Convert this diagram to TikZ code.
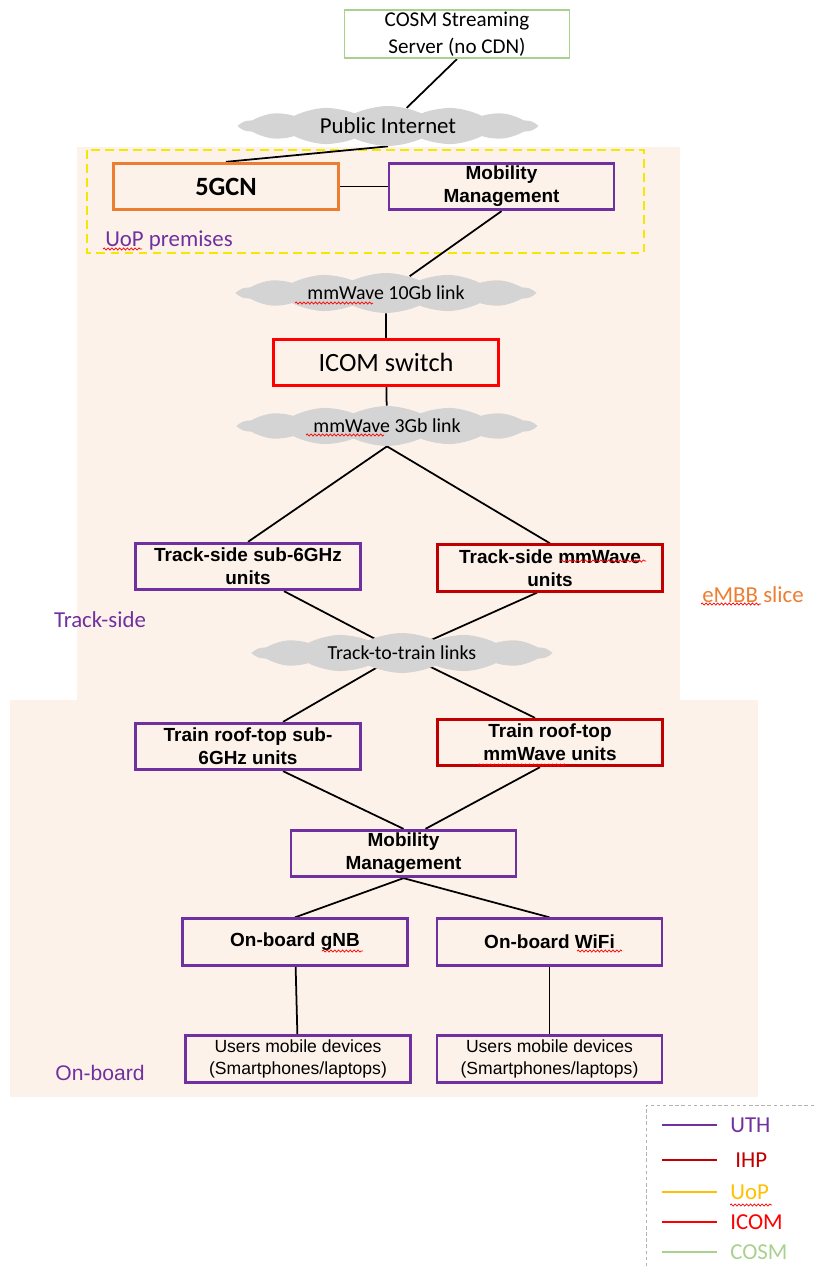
\documentclass[tikz,border=0pt]{standalone}
\usepackage{fontspec}
\setmainfont{Carlito}
\newfontfamily\arialfont{Liberation Sans}
\usetikzlibrary{calc,shapes.symbols,decorations.pathmorphing}

\definecolor{uthpurple}{HTML}{7030A0}
\definecolor{ihpred}{HTML}{C00000}
\definecolor{uopyellow}{HTML}{FFC000}
\definecolor{icomred}{HTML}{FF0000}
\definecolor{cosmgreen}{HTML}{A9D18E}
\definecolor{gcnorange}{HTML}{ED7D31}
\definecolor{premyellow}{HTML}{F5E800}
\definecolor{peach}{HTML}{FDF2EA}
\definecolor{cloudgray}{HTML}{D4D4D4}

\pgfdeclarelayer{back}
\pgfdeclarelayer{links}
\pgfsetlayers{back,links,main}

\tikzset{unitbox/.style = {draw, line width=1.6pt, minimum width=4.5cm, minimum height=0.93cm, inner sep=1pt, align=center}}
\tikzset{uthbox/.style = {unitbox, draw=uthpurple}}
\tikzset{ihpbox/.style = {unitbox, draw=ihpred}}
\tikzset{icombox/.style = {unitbox, draw=icomred}}
\tikzset{boldlabel/.style = {font=\arialfont\bfseries\fontsize{10.8}{13.2}\selectfont}}
\tikzset{userlabel/.style = {font=\arialfont\fontsize{10}{12.3}\selectfont}}
\tikzset{linkcloud/.style = {cloud, cloud puffs=14, cloud puff arc=50, cloud ignores aspect, fill=cloudgray,
                 minimum width=5.9cm, minimum height=0.8cm, inner sep=0pt, font=\fontsize{11.3}{13}\selectfont}}
\tikzset{area/.style = {text=uthpurple, font=\fontsize{13}{15}\selectfont}}
\tikzset{keyline/.style = {line width=1.2pt}}
\tikzset{keytext/.style = {anchor=west, inner sep=0pt, font=\fontsize{13}{15}\selectfont}}
\tikzset{link/.style = {line width=1pt}}
\tikzset{typo/.style = {red, line width=0.4pt, decorate, decoration={snake, amplitude=0.6pt, segment length=2.2pt}}}

\begin{document}
\begin{tikzpicture}[x=0.02cm, y=-0.02cm]
    \useasboundingbox (0,0) rectangle (814,1266);

    % slice areas
    \begin{pgfonlayer}{back}
        \fill[peach] (77,147) rectangle (680,702);
        \fill[peach] (10,700) rectangle (758,1097);
        \draw[premyellow, line width=1.2pt, dash pattern=on 5pt off 3pt] (87,150) rectangle (644,253);
    \end{pgfonlayer}

    \node[unitbox, draw=cosmgreen, line width=1.1pt, font=\fontsize{12}{15.5}\selectfont] (cosm) at (457,34) {COSM Streaming\\Server (no CDN)};
    \node[linkcloud, font=\fontsize{13}{15}\selectfont] (inet) at (388,126) {Public Internet};
    \node[unitbox, draw=gcnorange, font=\bfseries\fontsize{15}{18}\selectfont] (gcn) at (226,186.5) {5GCN};
    \node[uthbox, boldlabel] (mmA) at (501.5,186.5) {Mobility\\Management};
    \node[area] (premises) at (169,240) {UoP premises};

    \node[linkcloud] (mmten) at (386,293) {mmWave 10Gb link};
    \node[icombox, font=\fontsize{15}{18}\selectfont] (icom) at (386,362.5) {ICOM switch};
    \node[linkcloud] (mmthree) at (387,426) {mmWave 3Gb link};

    \node[uthbox, boldlabel] (tssub) at (248,566.5) {Track-side sub-6GHz\\units};
    \node[ihpbox, boldlabel] (tsmm) at (550,568) {Track-side mmWave\\units};
    \node[area] (trackside) at (100,620) {Track-side};
    \node[area, text=gcnorange] (slice) at (753,595) {eMBB slice};
    \node[linkcloud] (ttt) at (402,653) {Track-to-train links};

    \node[uthbox, boldlabel] (trsub) at (248,746.5) {Train roof-top sub-\\6GHz units};
    \node[ihpbox, boldlabel] (trmm) at (550,742.5) {Train roof-top\\mmWave units};
    \node[uthbox, boldlabel] (mmB) at (403.5,853.5) {Mobility\\Management};
    \node[uthbox, boldlabel] (gnb) at (295,942) {On-board gNB};
    \node[uthbox, boldlabel] (wifi) at (549.5,942) {On-board WiFi};
    \node[uthbox, userlabel] (usersA) at (298,1059) {Users mobile devices\\(Smartphones/laptops)};
    \node[uthbox, userlabel] (usersB) at (549.5,1059) {Users mobile devices\\(Smartphones/laptops)};
    \node[area, font=\arialfont\fontsize{12}{14}\selectfont] (onboard) at (100,1073) {On-board};

    % links (kept under the clouds)
    \begin{pgfonlayer}{links}
        \draw[link] (cosm.south) -- (inet);
        \draw[link] (inet.south) -- (gcn.north);
        \draw[link] (gcn) -- (mmA);
        \draw[link] (mmA.south) -- (mmten);
        \draw[link] (mmten) -- (icom);
        \draw[link] (icom) -- (mmthree);
        \draw[link] (mmthree.south) -- (tssub.north);
        \draw[link] (mmthree.south) -- (tsmm.north);
        \draw[link] ($(tssub.south)+(36,0)$) -- (ttt.center);
        \draw[link] ($(tsmm.south)+(-13,0)$) -- (ttt.center);
        \draw[link] (ttt.center) -- ($(trsub.north)+(35,0)$);
        \draw[link] (ttt.center) -- ($(trmm.north)+(-15,0)$);
        \draw[link] ($(trsub.south)+(35,0)$) -- (mmB.north);
        \draw[link] ($(trmm.south)+(-10,0)$) -- ($(mmB.north)+(22,0)$);
        \draw[link] (mmB.south) -- (gnb.north);
        \draw[link] (mmB.south) -- (wifi.north);
        \draw[link] (gnb) -- (usersA);
        \draw[link] (wifi) -- (usersB);
    \end{pgfonlayer}

    % spell-check marks
    \draw[typo] (103,249) -- (142,249);
    \draw[typo] (295,303) -- (373,303);
    \draw[typo] (306,435) -- (384,435);
    \draw[typo] (561,561) -- (646,561);
    \draw[typo] (478,765) -- (566,765);
    \draw[typo] (322,951) -- (363,951);
    \draw[typo] (577,951) -- (622,951);
    \draw[typo] (701,604) -- (761,604);

    % legend
    \draw[gray!60, line width=0.5pt, dash pattern=on 2pt off 1.5pt] (814,1105) -- (646,1105) -- (646,1266);
    \draw[keyline, uthpurple] (662,1125) -- (717,1125);
    \node[keytext, text=uthpurple] (uthkey) at (730,1125) {UTH};
    \draw[keyline, ihpred] (662,1160) -- (717,1160);
    \node[keytext, text=ihpred] (ihpkey) at (735,1160) {IHP};
    \draw[keyline, uopyellow] (662,1192) -- (717,1192);
    \node[keytext, text=uopyellow] (uopkey) at (730,1192) {UoP};
    \draw[typo] (730,1205) -- (772,1205);
    \draw[keyline, icomred] (662,1222) -- (717,1222);
    \node[keytext, text=icomred] (icomkey) at (730,1222) {ICOM};
    \draw[keyline, cosmgreen] (662,1252) -- (717,1252);
    \node[keytext, text=cosmgreen] (cosmkey) at (730,1252) {COSM};
\end{tikzpicture}
\end{document}
